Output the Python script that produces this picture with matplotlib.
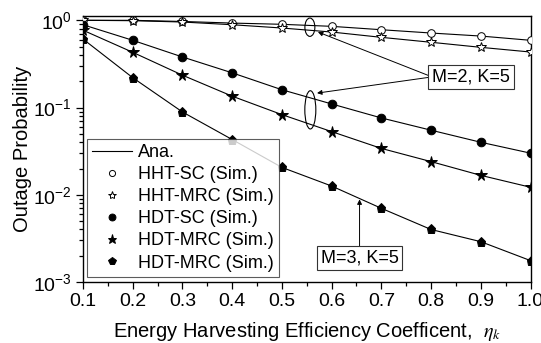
import matplotlib
matplotlib.use('Agg')
import matplotlib.pyplot as plt
from matplotlib.patches import Ellipse
from matplotlib.lines import Line2D
from matplotlib.ticker import MultipleLocator, FormatStrFormatter, LogLocator

plt.rcParams['font.family'] = ['Liberation Sans', 'DejaVu Sans']
plt.rcParams['mathtext.fontset'] = 'custom'
plt.rcParams['mathtext.rm'] = 'Liberation Sans'

# efficiency coefficient values
eta = [0.1, 0.2, 0.3, 0.4, 0.5, 0.6, 0.7, 0.8, 0.9, 1.0]

# outage probability, M=2, K=5
hht_sc = [1.0, 1.0, 0.97, 0.93, 0.90, 0.853, 0.78, 0.715, 0.66, 0.59]
hht_mrc = [1.0, 0.99, 0.956, 0.89, 0.816, 0.734, 0.638, 0.56, 0.49, 0.433]
hdt_sc = [0.89, 0.59, 0.38, 0.25, 0.16, 0.11, 0.076, 0.055, 0.040, 0.030]
hdt_mrc = [0.77, 0.43, 0.235, 0.135, 0.083, 0.053, 0.034, 0.024, 0.0167, 0.0122]
# outage probability, M=3, K=5
hdt_mrc_m3 = [0.61, 0.22, 0.089, 0.043, 0.0206, 0.0126, 0.0070, 0.0040, 0.0029, 0.00176]

labels = ['Ana.', 'HHT-SC (Sim.)', 'HHT-MRC (Sim.)', 'HDT-SC (Sim.)',
          'HDT-MRC (Sim.)', 'HDT-MRC (Sim.)']

fig = plt.figure(figsize=(5.41, 3.43), dpi=100)
ax = fig.add_axes([0.1534, 0.1778, 0.8272, 0.7746])

styles = [
    (hht_sc, 'o', 'white', 5.5),
    (hht_mrc, '*', 'white', 7.5),
    (hdt_sc, 'o', 'black', 6.2),
    (hdt_mrc, '*', 'black', 8.5),
    (hdt_mrc_m3, 'p', 'black', 6.8),
]
for y, m, fc, ms in styles:
    ax.plot(eta, y, color='black', lw=0.8, zorder=2)
    ax.plot(eta, y, ls='none', marker=m, mfc=fc, mec='black', mew=0.7, ms=ms, zorder=3)

ax.set_yscale('log')
ax.set_xlim(0.1, 1.0)
ax.set_ylim(1e-3, 1.111)
ax.xaxis.set_major_locator(MultipleLocator(0.1))
ax.xaxis.set_minor_locator(MultipleLocator(0.05))
ax.xaxis.set_major_formatter(FormatStrFormatter('%.1f'))
ax.yaxis.set_major_locator(LogLocator(base=10, numticks=10))
ax.yaxis.set_minor_locator(LogLocator(base=10, subs=range(2, 10), numticks=20))
ax.tick_params(which='both', direction='out', top=False, right=False, width=0.9)
ax.tick_params(which='major', length=5, labelsize=14, pad=3)
ax.tick_params(axis='y', which='minor', length=3, labelleft=False)
ax.tick_params(axis='x', which='minor', length=3)
for s in ax.spines.values():
    s.set_linewidth(1.0)

ax.set_ylabel('Outage Probability', fontsize=14.5, labelpad=1)
ax.set_xlabel(r'Energy Harvesting Efficiency Coefficent,  $\eta_k$', fontsize=14.5,
              labelpad=7, math_fontfamily='stix')

# legend
handles = [Line2D([], [], color='black', lw=0.8)]
for y, m, fc, ms in styles:
    handles.append(Line2D([], [], ls='none', marker=m, mfc=fc, mec='black', mew=0.7, ms=ms * 0.8))
leg = ax.legend(handles, labels, loc='lower left', bbox_to_anchor=(0.009, 0.019),
                borderaxespad=0, fontsize=13, frameon=True, fancybox=False,
                handlelength=2.2, handletextpad=0.3, labelspacing=0.28, borderpad=0.3)
leg.get_frame().set_edgecolor('#333333')
leg.get_frame().set_linewidth(0.8)

# group markers and labels
ax.add_patch(Ellipse((0.507, 0.959), 0.0223, 0.069, transform=ax.transAxes,
                     fill=False, lw=0.8, ec='black', zorder=4))
ax.add_patch(Ellipse((0.508, 0.648), 0.0246, 0.144, transform=ax.transAxes,
                     fill=False, lw=0.8, ec='black', zorder=4))

box = dict(boxstyle='square,pad=0.2', fc='white', ec='#333333', lw=0.8)
arrow = dict(arrowstyle='-|>', lw=0.7, color='black', mutation_scale=7, shrinkA=0, shrinkB=0)
ax.text(0.867, 0.772, 'M=2, K=5', transform=ax.transAxes, fontsize=13,
        ha='center', va='center', bbox=box, zorder=5)
for tip in [(0.525, 0.941), (0.523, 0.711)]:
    ax.annotate('', xy=tip, xytext=(0.780, 0.772), xycoords='axes fraction',
                arrowprops=arrow, zorder=4)
ax.text(0.618, 0.090, 'M=3, K=5', transform=ax.transAxes, fontsize=13,
        ha='center', va='center', bbox=box, zorder=5)
ax.annotate('', xy=(0.618, 0.311), xytext=(0.618, 0.133), xycoords='axes fraction',
            arrowprops=arrow, zorder=4)

fig.savefig('out.png', dpi=100)
